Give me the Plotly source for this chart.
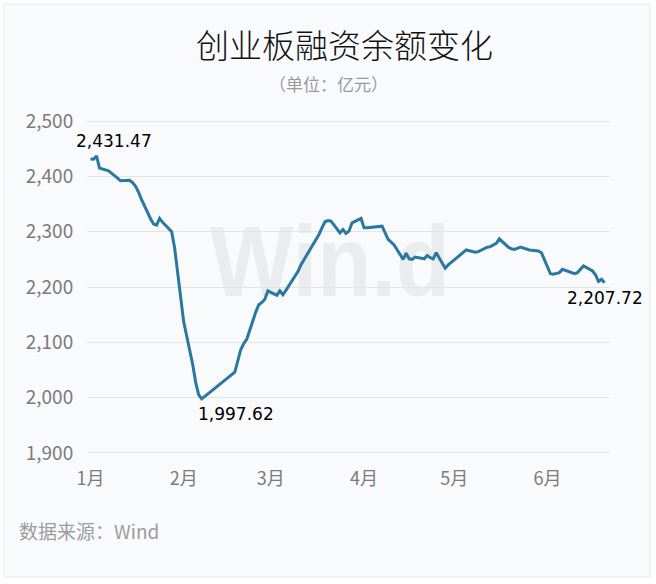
import base64
import plotly.graph_objects as go

# ---------------- data ----------------
dates = [
    "2024-01-02", "2024-01-03", "2024-01-04", "2024-01-05", "2024-01-08", "2024-01-09",
    "2024-01-10", "2024-01-11", "2024-01-12", "2024-01-15", "2024-01-16", "2024-01-17",
    "2024-01-18", "2024-01-19", "2024-01-22", "2024-01-23", "2024-01-24", "2024-01-25",
    "2024-01-26", "2024-01-29", "2024-01-30", "2024-01-31", "2024-02-01", "2024-02-02",
    "2024-02-05", "2024-02-06", "2024-02-07", "2024-02-08", "2024-02-19", "2024-02-20",
    "2024-02-21", "2024-02-22", "2024-02-23", "2024-02-26", "2024-02-27", "2024-02-28",
    "2024-02-29", "2024-03-01", "2024-03-04", "2024-03-05", "2024-03-06", "2024-03-07",
    "2024-03-08", "2024-03-11", "2024-03-12", "2024-03-13", "2024-03-14", "2024-03-15",
    "2024-03-18", "2024-03-19", "2024-03-20", "2024-03-21", "2024-03-22", "2024-03-25",
    "2024-03-26", "2024-03-27", "2024-03-28", "2024-03-29", "2024-04-01", "2024-04-02",
    "2024-04-03", "2024-04-08", "2024-04-09", "2024-04-10", "2024-04-11", "2024-04-12",
    "2024-04-15", "2024-04-16", "2024-04-17", "2024-04-18", "2024-04-19", "2024-04-22",
    "2024-04-23", "2024-04-24", "2024-04-25", "2024-04-26", "2024-04-29", "2024-04-30",
    "2024-05-06", "2024-05-07", "2024-05-08", "2024-05-09", "2024-05-10", "2024-05-13",
    "2024-05-14", "2024-05-15", "2024-05-16", "2024-05-17", "2024-05-20", "2024-05-21",
    "2024-05-22", "2024-05-23", "2024-05-24", "2024-05-27", "2024-05-28", "2024-05-29",
    "2024-05-30", "2024-05-31", "2024-06-03", "2024-06-04", "2024-06-05", "2024-06-06",
    "2024-06-07", "2024-06-11", "2024-06-12", "2024-06-13", "2024-06-14", "2024-06-17",
    "2024-06-18", "2024-06-19", "2024-06-20", "2024-06-21",
]
balance = [
    2431.47, 2431, 2437, 2415, 2410, 2406,
    2402, 2397, 2392, 2393, 2389, 2382,
    2371, 2358, 2323, 2314, 2312, 2324,
    2317, 2300, 2270, 2222, 2180, 2137,
    2060, 2027, 2005, 1997.62, 2046, 2067,
    2087, 2098, 2106, 2155, 2168, 2172,
    2178, 2193, 2185, 2193, 2186, 2194,
    2203, 2228, 2240, 2249, 2259, 2269,
    2295, 2307, 2318, 2320, 2319, 2298,
    2304, 2297, 2301, 2316, 2324, 2307,
    2307, 2310, 2298, 2286, 2281, 2276,
    2250, 2261, 2251, 2250, 2254, 2251,
    2257, 2253, 2251, 2262, 2234, 2240,
    2267, 2266, 2265, 2263, 2264, 2272,
    2273, 2276, 2279, 2287, 2272, 2269,
    2268, 2270, 2272, 2267, 2266, 2265,
    2265, 2262, 2224, 2223, 2224, 2226,
    2232, 2224, 2226, 2233, 2238, 2229,
    2222, 2210, 2214, 2207.72,
]
y_ticks = [1900, 2000, 2100, 2200, 2300, 2400, 2500]
month_ticks = ["2024-01-01", "2024-02-01", "2024-03-01", "2024-04-01", "2024-05-01", "2024-06-01"]
month_labels = ["1月", "2月", "3月", "4月", "5月", "6月"]

title_text = "创业板融资余额变化"
subtitle_text = "（单位：亿元）"
source_text = "数据来源：Wind"

# ---------------- layout constants ----------------
W, H = 656, 584
ML, MR, MT, MB = 87, 46, 120, 130
PW, PH = W - ML - MR, H - MT - MB
CARD = "#f9fafc"
LINE = "#2878a2"
CJK = "Noto Sans CJK SC"


def xp(px):
    return (px - ML) / PW


def yp(py):
    return (H - MB - py) / PH


fig = go.Figure()
fig.add_trace(go.Scatter(
    x=dates, y=balance, mode="lines",
    line=dict(color=LINE, width=3),
    hoverinfo="skip", showlegend=False,
))

# value labels: first, minimum, last
i_min = balance.index(min(balance))
lab_font = dict(family="DejaVu Sans", size=17, color="#000")
annotations = [
    dict(x=dates[0], y=balance[0], text=f"{balance[0]:,.2f}", xanchor="left", yanchor="bottom",
         xshift=-17, yshift=6, showarrow=False, font=lab_font),
    dict(x=dates[i_min], y=balance[i_min], text=f"{balance[i_min]:,.2f}", xanchor="left", yanchor="top",
         xshift=-6, yshift=-3, showarrow=False, font=lab_font),
    dict(x=dates[-1], y=balance[-1], text=f"{balance[-1]:,.2f}", xanchor="center", yanchor="top",
         xshift=0, yshift=-3, showarrow=False, font=lab_font),
    dict(x=xp(344), y=yp(44), xref="paper", yref="paper", text=title_text, showarrow=False,
         xanchor="center", yanchor="middle",
         font=dict(family=CJK, size=33, color="#111", weight=300)),
    dict(x=xp(328), y=yp(83), xref="paper", yref="paper", text=subtitle_text, showarrow=False,
         xanchor="center", yanchor="middle", font=dict(family=CJK, size=17, color="#9a9a9a")),
    dict(x=xp(17), y=yp(530), xref="paper", yref="paper", text=source_text, showarrow=False,
         xanchor="left", yanchor="middle", font=dict(family=CJK, size=19, color="#9c9c9c")),
]

# watermark (below grid and line)
svg = (
    f'<svg xmlns="http://www.w3.org/2000/svg" width="{PW}" height="{PH}">'
    f'<text x="{330 - ML}" y="{296 - MT}" font-family="Liberation Sans, Arial, sans-serif" '
    f'font-weight="bold" font-size="100" fill="#ebecee" text-anchor="middle" '
    f'textLength="240" lengthAdjust="spacingAndGlyphs">Win.d</text></svg>'
)
wm = "data:image/svg+xml;base64," + base64.b64encode(svg.encode("utf-8")).decode()

# white outer border around the card + faint card edge
shapes = []
for (x0, y0, x1, y1) in [(0, 0, W, 4), (0, 577, W, H), (0, 0, 4, H), (650, 0, W, H)]:
    shapes.append(dict(type="rect", xref="paper", yref="paper", x0=xp(x0), x1=xp(x1),
                       y0=yp(y1), y1=yp(y0), fillcolor="#ffffff", line=dict(width=0), layer="above"))
shapes.append(dict(type="rect", xref="paper", yref="paper", x0=xp(4), x1=xp(650), y0=yp(577), y1=yp(4),
                   fillcolor="rgba(0,0,0,0)", line=dict(color="#e9ebee", width=1), layer="above"))

fig.update_layout(
    width=W, height=H, autosize=False,
    margin=dict(l=ML, r=MR, t=MT, b=MB, pad=0),
    paper_bgcolor=CARD, plot_bgcolor="rgba(0,0,0,0)",
    annotations=annotations, shapes=shapes,
    images=[dict(source=wm, xref="paper", yref="paper", x=0, y=1, sizex=1, sizey=1,
                 xanchor="left", yanchor="top", sizing="stretch", layer="below")],
    xaxis=dict(
        type="date", range=["2023-12-31 20:00", "2024-06-22 19:40"],
        tickvals=month_ticks, ticktext=month_labels, ticklabelshift=3,
        showgrid=False, zeroline=False, showline=False,
        ticks="outside", ticklen=8, tickcolor="rgba(0,0,0,0)",
        tickfont=dict(family=CJK, size=18, color="#7b7b7b"),
        fixedrange=True,
    ),
    yaxis=dict(
        range=[1898, 2502], tickvals=y_ticks, tickformat=",d",
        showgrid=True, gridcolor="#e4e4e4", gridwidth=1,
        zeroline=False, showline=False,
        ticks="outside", ticklen=9, tickcolor="rgba(0,0,0,0)",
        tickfont=dict(family=CJK, size=19, color="#7b7b7b"),
        fixedrange=True,
    ),
    showlegend=False,
)

fig.write_html("out.html", config={"displayModeBar": False},
               post_script="document.body.style.margin='0';document.body.style.overflow='hidden';")
